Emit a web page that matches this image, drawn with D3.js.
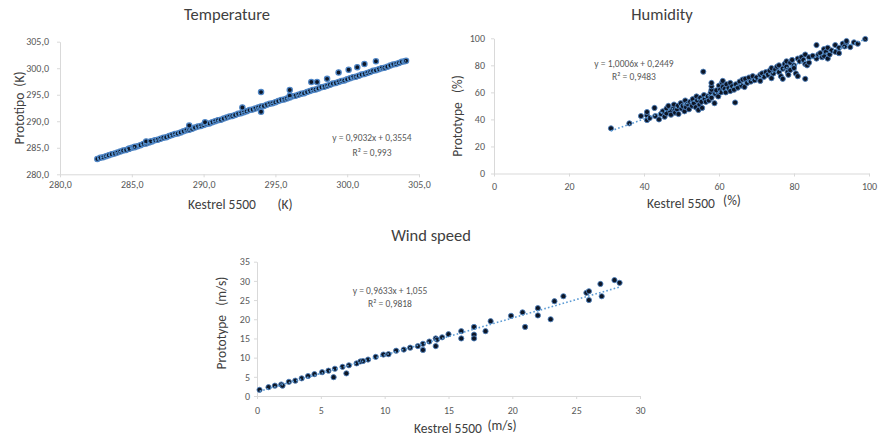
<!DOCTYPE html>
<html><head><meta charset="utf-8">
<script src="https://cdn.jsdelivr.net/npm/d3@7"></script>
<style>
body{margin:0;background:#fff}
svg{display:block}
text{font-family:Carlito,Lato,"Open Sans",sans-serif}
</style>
</head><body>
<svg id="chart" width="880" height="438"></svg>
<script>
// ---------- DATA ----------
const tempTicks = [280, 285, 290, 295, 300, 305];
const humTicks = [0, 20, 40, 60, 80, 100];
const windXTicks = [0, 5, 10, 15, 20, 25, 30];
const windYTicks = [0, 5, 10, 15, 20, 25, 30, 35];

// Temperature: dense band of readings + scattered points [Kestrel, Prototipo]
const tempBand = [
[282.6,282.9],[282.8,283.1],[283.0,283.2],[283.2,283.4],[283.4,283.6],[283.6,283.8],[283.8,283.9],[284.0,284.1],
[284.2,284.3],[284.4,284.5],[284.6,284.6],[284.8,284.8],[285.0,285.0],[285.2,285.1],[285.4,285.3],[285.6,285.5],
[285.8,285.7],[286.0,285.8],[286.2,286.0],[286.4,286.2],[286.6,286.4],[286.8,286.5],[287.0,286.7],[287.2,286.9],
[287.4,287.0],[287.6,287.2],[287.8,287.4],[288.0,287.6],[288.2,287.7],[288.4,287.9],[288.6,288.1],[288.8,288.3],
[289.0,288.4],[289.2,288.6],[289.4,288.8],[289.6,289.0],[289.8,289.1],[290.0,289.3],[290.2,289.5],[290.4,289.6],
[290.6,289.8],[290.8,290.0],[291.0,290.2],[291.2,290.3],[291.4,290.5],[291.6,290.7],[291.8,290.9],[292.0,291.0],
[292.2,291.2],[292.4,291.4],[292.6,291.5],[292.8,291.7],[293.0,291.9],[293.2,292.1],[293.4,292.2],[293.6,292.4],
[293.8,292.6],[294.0,292.8],[294.2,292.9],[294.4,293.1],[294.6,293.3],[294.8,293.4],[295.0,293.6],[295.2,293.8],
[295.4,294.0],[295.6,294.1],[295.8,294.3],[296.0,294.5],[296.2,294.7],[296.4,294.8],[296.6,295.0],[296.8,295.2],
[297.0,295.3],[297.2,295.5],[297.4,295.7],[297.6,295.9],[297.8,296.0],[298.0,296.2],[298.2,296.4],[298.4,296.5],
[298.6,296.7],[298.8,296.9],[299.0,297.1],[299.2,297.2],[299.4,297.4],[299.6,297.6],[299.8,297.7],[300.0,297.9],
[300.2,298.1],[300.4,298.3],[300.6,298.4],[300.8,298.6],[301.0,298.8],[301.2,298.9],[301.4,299.1],[301.6,299.3],
[301.8,299.5],[302.0,299.6],[302.2,299.8],[302.4,300.0],[302.6,300.1],[302.8,300.3],[303.0,300.5],[303.2,300.7],
[303.4,300.8],[303.6,301.0],[303.8,301.2],[304.0,301.3]
];
const tempScatter = [
[284.8,284.8],[285.2,285.2],[286.0,286.2],[286.3,286.2],[289.0,289.2],[290.1,289.8],[292.7,292.6],
[294.0,295.5],[294.0,291.8],[296.0,295.9],[296.0,294.8],[297.5,297.4],[297.9,297.4],[298.6,298.0],
[299.4,299.2],[300.1,299.7],[300.7,300.2],[301.2,300.8],[302.0,301.3],[304.1,301.4]
];
const tempTrend = [[282.6,282.9],[304.1,301.4]];

const humPoints = [
[31.2,33.4],[36.1,37.1],[39.2,42.5],[40.8,39.5],[40.8,43],[40.8,45.5],[41.5,41],[42.8,48.5],[43,42.5],[44,40],
[44.5,44],[45,46],[45.5,42],[46,48],[46,44.5],[46.5,50],[47,46],[47.2,43.5],[47.8,48],[48,51],[48.3,45],[48.8,47.5],
[49,50],[49.2,44],[49.8,52],[50,48],[50.3,50],[50.8,46],[51,54],[51.2,49],[51.6,51.5],[52,47.5],[52.3,53],[52.8,50],
[53,55],[53.3,52],[53.8,49],[54,57],[54.2,54],[54.5,47],[54.8,51],[55,56],[55.3,53],[55.5,48.5],[55.8,75.3],[56,58],
[56.2,55],[56.5,53],[57,57],[57.3,54],[57.8,60],[58,56],[58,62],[58,64.5],[58,67],[58.8,52],[59,59],[59.3,61.5],
[59.8,57],[60,65],[60.3,62],[60.5,60],[60.8,67],[61,64],[61,68.5],[61.5,62.5],[61.8,60],[62,66],[62.5,63],[63,61],
[63,67],[63.5,64.5],[64,62],[64.3,52.5],[64.5,66],[65,63.5],[65.5,68],[66,65],[66.3,69.5],[66.8,64],[67,70],[67.5,67],
[68,71],[68.5,68],[69,72],[69.5,69],[70,71],[71,73],[71,68.5],[71.5,74],[72,71.5],[72.5,75],[73,73],[73.5,76],[74,78],
[74,70.5],[74.5,74],[75,77],[75.5,79],[76,75],[76,80],[76.5,72],[77,77.5],[77,70],[77.5,81],[78,79],[78,83],[78.3,75],
[78.5,73],[79,82],[79,76.5],[79.5,84],[80,80],[80,78],[80.5,74],[81,72],[81,85],[81.5,83],[82,86],[82.5,84],[83,70],
[83,81],[83,88],[83.5,80],[84,86],[84,82],[85,87],[86,85],[86,95],[86.5,88],[87,89],[87.5,86],[88,92],[88,87],[88.5,90],
[89,85],[89,93],[89.5,88],[90,91],[91,95],[91,90],[92,93],[92,89],[93,96],[93.5,94],[94,97],[94,98],[95,93.5],[96,97],
[97,96],[99,99.5]
];
const humTrend = [[31.2,31.5],[99,99.3]];

const windPoints = [
[0.2,1.6],[0.9,2.3],[1.4,2.7],[1.9,3.0],[2.0,2.7],[2.5,3.7],[3.0,4.0],[3.5,4.6],[4.0,5.2],[4.5,5.7],[5.1,6.2],
[5.6,6.6],[6.0,4.9],[6.1,7.1],[6.7,7.6],[7.0,5.9],[7.2,8.0],[7.8,8.5],[8.1,9.0],[8.3,9.1],[8.7,9.5],[9.3,10.2],
[9.9,10.8],[10.3,10.9],[10.9,11.8],[11.5,12.1],[12.0,12.6],[12.6,13.0],[13.0,13.6],[13.0,12.0],[13.5,14.2],
[14.0,15.0],[14.0,13.0],[14.1,14.7],[14.5,15.3],[15.0,16.1],[16.0,16.9],[16.0,15.0],[17.0,18.0],[17.0,16.0],
[17.0,15.0],[17.9,16.9],[18.3,19.5],[19.9,20.9],[20.8,21.8],[21.0,18.0],[22.0,22.9],[22.0,21.0],[23.0,20.0],
[23.3,24.7],[24.0,26.0],[25.8,26.9],[26.0,27.3],[26.0,25.0],[26.9,29.2],[27.0,26.0],[28.0,30.2],[28.4,29.5]
];
const windTrend = [[0.2,1.25],[28.4,28.4]];

// ---------- DRAW ----------
const svg = d3.select("#chart");
const comma = d => String(d).replace(".", ",");
const fmt1 = d => d3.format(".1f")(d).replace(".", ",");

function panel(o) {
  const g = svg.append("g");
  const x = d3.scaleLinear().domain(o.xDomain).range(o.xRange);
  const y = d3.scaleLinear().domain(o.yDomain).range(o.yRange);

  const xa = g.append("g").attr("transform", `translate(0,${o.yRange[0]})`)
    .call(d3.axisBottom(x).tickValues(o.xTicks).tickFormat(o.fmt).tickSize(3).tickSizeOuter(0).tickPadding(o.xPad));
  const ya = g.append("g").attr("transform", `translate(${o.xRange[0]},0)`)
    .call(d3.axisLeft(y).tickValues(o.yTicks).tickFormat(o.fmt).tickSize(3).tickSizeOuter(0).tickPadding(o.yPad));
  [xa, ya].forEach(a => {
    a.select(".domain").attr("stroke", "#d9d9d9");
    a.selectAll(".tick line").attr("stroke", "#d9d9d9");
    a.selectAll(".tick text").attr("fill", "#595959").style("font-size", "10px")
      .style("font-family", "Carlito,Lato,sans-serif");
  });

  // points
  g.append("g").selectAll("circle").data(o.points).join("circle")
    .attr("cx", d => x(d[0])).attr("cy", d => y(d[1])).attr("r", 2.6)
    .attr("fill", "#0d1626").attr("stroke", o.ptStroke).attr("stroke-width", o.ptStrokeW);

  // trendline
  g.append("path").datum(o.trend)
    .attr("d", d3.line().x(d => x(d[0])).y(d => y(d[1])))
    .attr("fill", "none").attr("stroke", "#5b9bd5").attr("stroke-width", 1.6)
    .attr("stroke-dasharray", "1.6,2.2");

  // title
  g.append("text").attr("x", o.title[1]).attr("y", o.title[2]).attr("text-anchor", "middle")
    .attr("fill", "#404040").style("font-size", "16.5px").text(o.title[0]);

  // x title
  o.xTitle.forEach(t => g.append("text").attr("x", t[1]).attr("y", t[2]).attr("text-anchor", "middle")
    .attr("fill", "#404040").style("font-size", "13.5px").text(t[0]));
  // y title
  g.append("text").attr("transform", `translate(${o.yTitle[1]},${o.yTitle[2]}) rotate(-90)`)
    .attr("text-anchor", "middle").attr("fill", "#404040").style("font-size", "13.5px")
    .attr("xml:space", "preserve").text(o.yTitle[0]);

  // equation
  o.eq.forEach(t => g.append("text").attr("x", t[1]).attr("y", t[2]).attr("text-anchor", "middle")
    .attr("fill", "#595959").style("font-size", "9.5px").text(t[0]));
}

panel({
  xDomain: [280, 305], xRange: [60, 419], yDomain: [280, 305], yRange: [174.3, 41.7],
  xTicks: tempTicks, yTicks: tempTicks, fmt: fmt1, xPad: 4, yPad: 8,
  points: tempBand.concat(tempScatter), trend: tempTrend, ptStroke: "#4f86c6", ptStrokeW: 1.3,
  title: ["Temperature", 227, 20],
  xTitle: [["Kestrel 5500", 222, 209], ["(K)", 285, 209]],
  yTitle: ["Prototipo  (K)", 24, 108],
  eq: [["y = 0,9032x + 0,3554", 372, 141], ["R² = 0,993", 372, 156]]
});

panel({
  xDomain: [0, 100], xRange: [494, 869], yDomain: [0, 100], yRange: [173.5, 38.3],
  xTicks: humTicks, yTicks: humTicks, fmt: comma, xPad: 6, yPad: 6,
  points: humPoints, trend: humTrend, ptStroke: "#4f81bd", ptStrokeW: 0.9,
  title: ["Humidity", 662, 20],
  xTitle: [["Kestrel 5500", 681, 208], ["(%)", 732, 205]],
  yTitle: ["Prototype   (%)", 462, 116],
  eq: [["y = 1,0006x + 0,2449", 634, 66.5], ["R² = 0,9483", 634, 80]]
});

panel({
  xDomain: [0, 30], xRange: [257, 640], yDomain: [0, 35], yRange: [396, 261.7],
  xTicks: windXTicks, yTicks: windYTicks, fmt: comma, xPad: 8, yPad: 4,
  points: windPoints, trend: windTrend, ptStroke: "#4f81bd", ptStrokeW: 0.9,
  title: ["Wind speed", 431, 241],
  xTitle: [["Kestrel 5500", 448, 433], ["(m/s)", 502, 430]],
  yTitle: ["Prototype   (m/s)", 226, 323],
  eq: [["y = 0,9633x + 1,055", 390, 294], ["R² = 0,9818", 390, 307]]
});
</script>
</body></html>
